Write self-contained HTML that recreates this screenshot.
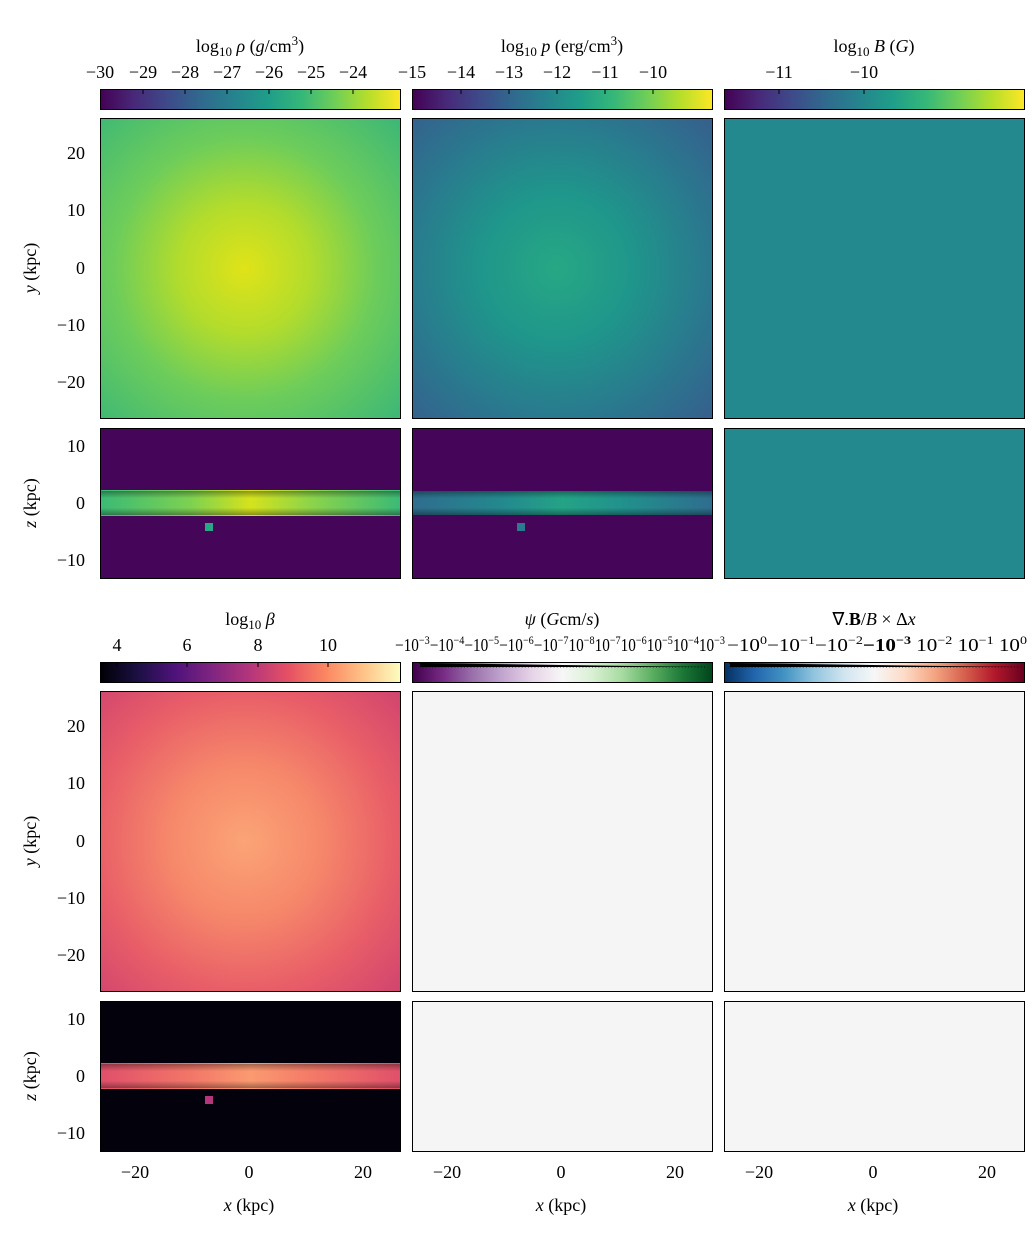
<!DOCTYPE html>
<html><head><meta charset="utf-8"><style>
html,body{margin:0;padding:0;background:#fff;}
text{font-family:"Liberation Serif",serif;font-size:18px;fill:#000;}
.i{font-style:italic;}
</style></head><body>
<svg width="1036" height="1252" viewBox="0 0 1036 1252" xmlns="http://www.w3.org/2000/svg">
<defs>
<linearGradient id="vir" x1="0" x2="1" y1="0" y2="0">
<stop offset="0" stop-color="#440154"/><stop offset="0.11" stop-color="#482878"/><stop offset="0.22" stop-color="#3e4989"/><stop offset="0.33" stop-color="#31688e"/><stop offset="0.44" stop-color="#26828e"/><stop offset="0.56" stop-color="#1f9e89"/><stop offset="0.67" stop-color="#35b779"/><stop offset="0.78" stop-color="#6ece58"/><stop offset="0.89" stop-color="#b5de2b"/><stop offset="1" stop-color="#fde725"/></linearGradient>
<linearGradient id="mag" x1="0" x2="1" y1="0" y2="0">
<stop offset="0" stop-color="#000004"/><stop offset="0.125" stop-color="#1c1044"/><stop offset="0.25" stop-color="#4f127b"/><stop offset="0.375" stop-color="#812581"/><stop offset="0.5" stop-color="#b5367a"/><stop offset="0.625" stop-color="#e55064"/><stop offset="0.75" stop-color="#fb8761"/><stop offset="0.875" stop-color="#fec287"/><stop offset="1" stop-color="#fcfdbf"/></linearGradient>
<linearGradient id="prg" x1="0" x2="1" y1="0" y2="0">
<stop offset="0" stop-color="#40004b"/><stop offset="0.1" stop-color="#762a83"/><stop offset="0.2" stop-color="#9970ab"/><stop offset="0.3" stop-color="#c2a5cf"/><stop offset="0.4" stop-color="#e7d4e8"/><stop offset="0.5" stop-color="#f7f7f7"/><stop offset="0.6" stop-color="#d9f0d3"/><stop offset="0.7" stop-color="#a6dba0"/><stop offset="0.8" stop-color="#5aae61"/><stop offset="0.9" stop-color="#1b7837"/><stop offset="1" stop-color="#00441b"/></linearGradient>
<linearGradient id="rdb" x1="0" x2="1" y1="0" y2="0">
<stop offset="0" stop-color="#053061"/><stop offset="0.1" stop-color="#2166ac"/><stop offset="0.2" stop-color="#4393c3"/><stop offset="0.3" stop-color="#92c5de"/><stop offset="0.4" stop-color="#d1e5f0"/><stop offset="0.5" stop-color="#f7f7f7"/><stop offset="0.6" stop-color="#fddbc7"/><stop offset="0.7" stop-color="#f4a582"/><stop offset="0.8" stop-color="#d6604d"/><stop offset="0.9" stop-color="#b2182b"/><stop offset="1" stop-color="#67001f"/></linearGradient>
<radialGradient id="rho" cx="0.48" cy="0.5" r="0.72">
<stop offset="0" stop-color="#e0e318"/><stop offset="0.3" stop-color="#b3dc2c"/><stop offset="0.6" stop-color="#6ecd5a"/><stop offset="1" stop-color="#3cb777"/></radialGradient>
<radialGradient id="pre" cx="0.48" cy="0.5" r="0.72">
<stop offset="0" stop-color="#27a884"/><stop offset="0.35" stop-color="#1f968b"/><stop offset="0.7" stop-color="#2a788e"/><stop offset="1" stop-color="#365f8d"/></radialGradient>
<radialGradient id="bet" cx="0.48" cy="0.5" r="0.72">
<stop offset="0" stop-color="#fba477"/><stop offset="0.35" stop-color="#f6886a"/><stop offset="0.7" stop-color="#e85d68"/><stop offset="1" stop-color="#d1446f"/></radialGradient>
<linearGradient id="drho" x1="0" x2="1" y1="0" y2="0">
<stop offset="0" stop-color="#3bba76"/><stop offset="0.3" stop-color="#7dd151"/><stop offset="0.5" stop-color="#d5e21c"/><stop offset="0.7" stop-color="#8dd44a"/><stop offset="1" stop-color="#3bba76"/></linearGradient>
<linearGradient id="dpre" x1="0" x2="1" y1="0" y2="0">
<stop offset="0" stop-color="#2f6d8e"/><stop offset="0.3" stop-color="#23898e"/><stop offset="0.5" stop-color="#24a386"/><stop offset="0.7" stop-color="#21918c"/><stop offset="1" stop-color="#2f6d8e"/></linearGradient>
<linearGradient id="dbet" x1="0" x2="1" y1="0" y2="0">
<stop offset="0" stop-color="#e0506a"/><stop offset="0.3" stop-color="#f27668"/><stop offset="0.5" stop-color="#fb9a70"/><stop offset="0.7" stop-color="#f47a68"/><stop offset="1" stop-color="#e0506a"/></linearGradient>
<linearGradient id="edge" x1="0" x2="0" y1="0" y2="1">
<stop offset="0" stop-color="#000" stop-opacity="0.35"/><stop offset="0.3" stop-color="#000" stop-opacity="0"/><stop offset="0.7" stop-color="#000" stop-opacity="0"/><stop offset="1" stop-color="#000" stop-opacity="0.35"/></linearGradient>
</defs>

<!-- Colorbar titles -->
<text x="250" y="52" text-anchor="middle">log<tspan font-size="13" dy="4">10</tspan><tspan dy="-4" class="i"> ρ</tspan> (<tspan class="i">g</tspan>/cm<tspan font-size="13" dy="-7">3</tspan><tspan dy="7">)</tspan></text>
<text x="562" y="52" text-anchor="middle">log<tspan font-size="13" dy="4">10</tspan><tspan dy="-4" class="i"> p</tspan> (erg/cm<tspan font-size="13" dy="-7">3</tspan><tspan dy="7">)</tspan></text>
<text x="874" y="52" text-anchor="middle">log<tspan font-size="13" dy="4">10</tspan><tspan dy="-4" class="i"> B</tspan> (<tspan class="i">G</tspan>)</text>
<g text-anchor="middle">
<text x="100" y="78">−30</text><text x="143" y="78">−29</text><text x="185" y="78">−28</text><text x="227" y="78">−27</text><text x="269" y="78">−26</text><text x="311" y="78">−25</text><text x="353" y="78">−24</text>
<text x="412" y="78">−15</text><text x="461" y="78">−14</text><text x="509" y="78">−13</text><text x="557" y="78">−12</text><text x="605" y="78">−11</text><text x="653" y="78">−10</text>
<text x="779" y="78">−11</text><text x="864" y="78">−10</text>
</g>
<rect x="100.5" y="89.5" width="300" height="20" fill="url(#vir)" stroke="#000"/>
<rect x="412.5" y="89.5" width="300" height="20" fill="url(#vir)" stroke="#000"/>
<rect x="724.5" y="89.5" width="300" height="20" fill="url(#vir)" stroke="#000"/>
<g stroke="#000" stroke-width="1">
<path d="M143 90v4M185 90v4M227 90v4M269 90v4M311 90v4M353 90v4"/>
<path d="M461 90v4M509 90v4M557 90v4M605 90v4M653 90v4"/>
<path d="M779 90v4M864 90v4"/>
</g>

<rect x="100.5" y="118.5" width="300" height="300" fill="url(#rho)" stroke="#000"/>
<rect x="412.5" y="118.5" width="300" height="300" fill="url(#pre)" stroke="#000"/>
<rect x="724.5" y="118.5" width="300" height="300" fill="#23898e" stroke="#000"/>

<rect x="100.5" y="428.5" width="300" height="150" fill="#450559" stroke="#000"/>
<rect x="101" y="490" width="299" height="26" fill="url(#drho)"/>
<rect x="101" y="491" width="299" height="24" fill="url(#edge)"/>
<rect x="205" y="523" width="8" height="8" fill="#27a884"/>
<rect x="412.5" y="428.5" width="300" height="150" fill="#450559" stroke="#000"/>
<rect x="413" y="491" width="299" height="24" fill="url(#dpre)"/>
<rect x="413" y="491" width="299" height="24" fill="url(#edge)"/>
<rect x="517" y="523" width="8" height="8" fill="#2a7b8e"/>
<rect x="724.5" y="428.5" width="300" height="150" fill="#23898e" stroke="#000"/>

<g text-anchor="end">
<text x="85" y="159">20</text><text x="85" y="216">10</text><text x="85" y="274">0</text><text x="85" y="331">−10</text><text x="85" y="388">−20</text>
<text x="85" y="452">10</text><text x="85" y="509">0</text><text x="85" y="566">−10</text>
</g>
<text transform="translate(36,268) rotate(-90)" text-anchor="middle"><tspan class="i">y</tspan> (kpc)</text>
<text transform="translate(36,503) rotate(-90)" text-anchor="middle"><tspan class="i">z</tspan> (kpc)</text>

<text x="250" y="625" text-anchor="middle">log<tspan font-size="13" dy="4">10</tspan><tspan dy="-4" class="i"> β</tspan></text>
<text x="562" y="625" text-anchor="middle"><tspan class="i">ψ</tspan> (<tspan class="i">G</tspan>cm/<tspan class="i">s</tspan>)</text>
<text x="874" y="625" text-anchor="middle">∇.<tspan font-weight="bold">B</tspan>/<tspan class="i">B</tspan> × Δ<tspan class="i">x</tspan></text>
<g text-anchor="middle">
<text x="117" y="651">4</text><text x="187" y="651">6</text><text x="258" y="651">8</text><text x="328" y="651">10</text>
</g>
<text x="395" y="651" font-size="18" textLength="330" lengthAdjust="spacingAndGlyphs">−10<tspan font-size="12" dy="-7">−3</tspan><tspan dy="7">−10</tspan><tspan font-size="12" dy="-7">−4</tspan><tspan dy="7">−10</tspan><tspan font-size="12" dy="-7">−5</tspan><tspan dy="7">−10</tspan><tspan font-size="12" dy="-7">−6</tspan><tspan dy="7">−10</tspan><tspan font-size="12" dy="-7">−7</tspan><tspan dy="7">10</tspan><tspan font-size="12" dy="-7">−8</tspan><tspan dy="7">10</tspan><tspan font-size="12" dy="-7">−7</tspan><tspan dy="7">10</tspan><tspan font-size="12" dy="-7">−6</tspan><tspan dy="7">10</tspan><tspan font-size="12" dy="-7">−5</tspan><tspan dy="7">10</tspan><tspan font-size="12" dy="-7">−4</tspan><tspan dy="7">10</tspan><tspan font-size="12" dy="-7">−3</tspan></text>
<text x="727" y="651" font-size="18" textLength="300" lengthAdjust="spacingAndGlyphs">−10<tspan font-size="12" dy="-7">0</tspan><tspan dy="7">−10</tspan><tspan font-size="12" dy="-7">−1</tspan><tspan dy="7">−10</tspan><tspan font-size="12" dy="-7">−2</tspan><tspan dy="7" font-weight="bold">−10</tspan><tspan font-size="12" dy="-7" font-weight="bold">−3</tspan><tspan dy="7"> 10</tspan><tspan font-size="12" dy="-7">−2</tspan><tspan dy="7">  10</tspan><tspan font-size="12" dy="-7">−1</tspan><tspan dy="7">   10</tspan><tspan font-size="12" dy="-7">0</tspan></text>
<rect x="100.5" y="662.5" width="300" height="20" fill="url(#mag)" stroke="#000"/>
<rect x="412.5" y="662.5" width="300" height="20" fill="url(#prg)" stroke="#000"/>
<rect x="724.5" y="662.5" width="300" height="20" fill="url(#rdb)" stroke="#000"/>
<g stroke="#000"><path d="M117 663v4M187 663v4M258 663v4M328 663v4"/></g>
<g stroke="#000" stroke-width="0.8" stroke-dasharray="1 2.2">
<path d="M420 663v4H705"/>
<path d="M730 663v4H1020"/>
</g>

<rect x="100.5" y="691.5" width="300" height="300" fill="url(#bet)" stroke="#000"/>
<rect x="412.5" y="691.5" width="300" height="300" fill="#f5f5f5" stroke="#000"/>
<rect x="724.5" y="691.5" width="300" height="300" fill="#f5f5f5" stroke="#000"/>

<rect x="100.5" y="1001.5" width="300" height="150" fill="#03020c" stroke="#000"/>
<rect x="101" y="1063" width="299" height="26" fill="url(#dbet)"/>
<rect x="101" y="1064" width="299" height="24" fill="url(#edge)"/>
<rect x="205" y="1096" width="8" height="8" fill="#b5367a"/>
<rect x="412.5" y="1001.5" width="300" height="150" fill="#f5f5f5" stroke="#000"/>
<rect x="724.5" y="1001.5" width="300" height="150" fill="#f5f5f5" stroke="#000"/>

<g text-anchor="end">
<text x="85" y="732">20</text><text x="85" y="789">10</text><text x="85" y="847">0</text><text x="85" y="904">−10</text><text x="85" y="961">−20</text>
<text x="85" y="1025">10</text><text x="85" y="1082">0</text><text x="85" y="1139">−10</text>
</g>
<text transform="translate(36,841) rotate(-90)" text-anchor="middle"><tspan class="i">y</tspan> (kpc)</text>
<text transform="translate(36,1076) rotate(-90)" text-anchor="middle"><tspan class="i">z</tspan> (kpc)</text>

<g text-anchor="middle">
<text x="135" y="1178">−20</text><text x="249" y="1178">0</text><text x="363" y="1178">20</text>
<text x="447" y="1178">−20</text><text x="561" y="1178">0</text><text x="675" y="1178">20</text>
<text x="759" y="1178">−20</text><text x="873" y="1178">0</text><text x="987" y="1178">20</text>
<text x="249" y="1211"><tspan class="i">x</tspan> (kpc)</text>
<text x="561" y="1211"><tspan class="i">x</tspan> (kpc)</text>
<text x="873" y="1211"><tspan class="i">x</tspan> (kpc)</text>
</g>
</svg>
</body></html>
